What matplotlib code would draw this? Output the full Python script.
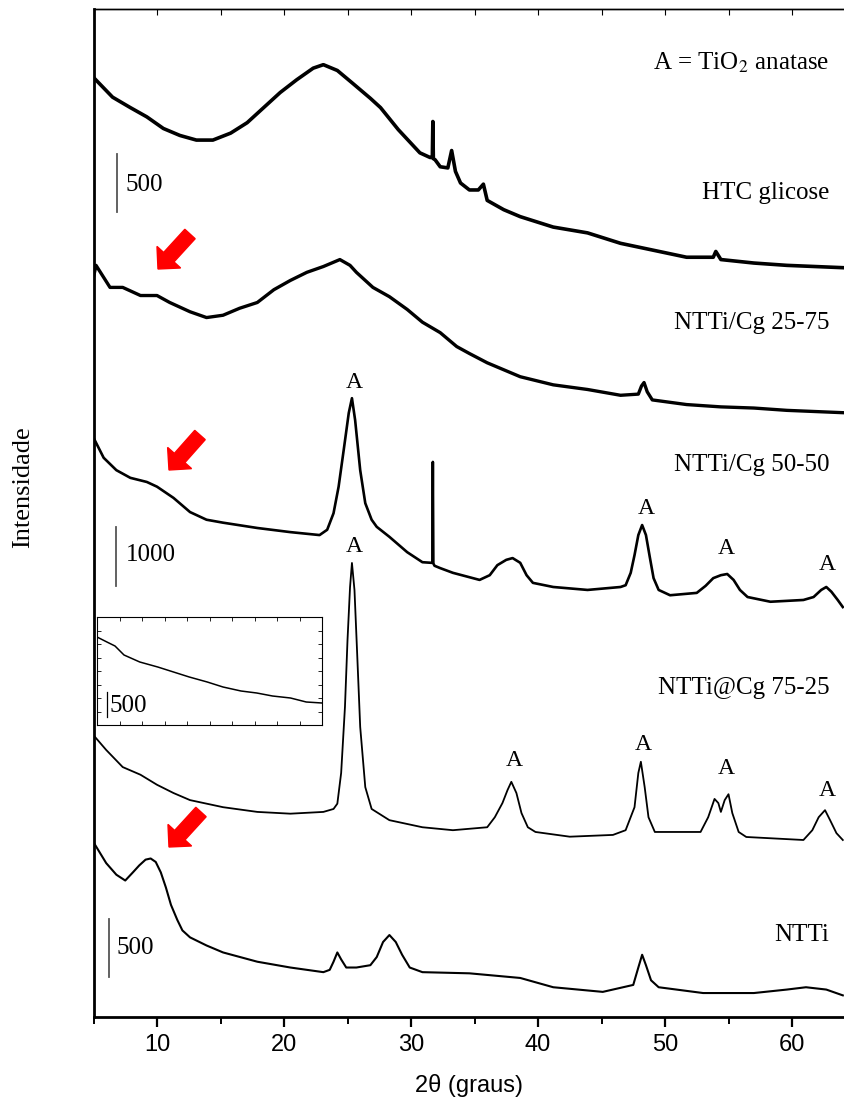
import matplotlib
matplotlib.use("Agg")
import matplotlib.pyplot as plt
from matplotlib.patches import FancyArrow
from matplotlib.transforms import IdentityTransform
from matplotlib.ticker import MultipleLocator
import numpy as np

plt.rcParams['mathtext.fontset'] = 'stix'

# ---------------- data (2theta in degrees, intensity in counts) ----------------
htc_2t = [5.0, 6.5, 7.9, 9.2, 10.5, 11.8, 13.1, 14.4, 15.8, 17.1, 18.4, 19.7, 21.0, 22.3,
          23.1, 24.2, 25.4, 26.8, 27.6, 29.0, 30.7, 31.5, 31.68, 31.72, 31.76, 31.9, 32.3,
          32.9, 33.2, 33.5, 33.9, 34.6, 35.3, 35.7, 36.0, 37.3, 38.6, 41.2, 43.9, 46.5,
          49.1, 51.7, 53.8, 54.0, 54.4, 57.0, 59.6, 64.0]
htc_int = [1660, 1490, 1400, 1320, 1220, 1160, 1120, 1120, 1180, 1270, 1400, 1530, 1640, 1740,
           1770, 1720, 1610, 1480, 1400, 1210, 1010, 970, 970, 1280, 960, 950, 890,
           880, 1030, 850, 750, 690, 690, 740, 600, 520, 460, 370, 320, 230,
           170, 110, 110, 160, 90, 60, 40, 20]

c2575_2t = [5.0, 5.2, 6.3, 7.3, 8.7, 10.0, 11.0, 12.6, 13.9, 15.2, 16.5, 17.9, 19.2, 20.5,
            21.8, 23.1, 24.4, 25.2, 25.7, 27.0, 28.3, 29.7, 30.9, 32.3, 33.6, 34.6, 36.0,
            38.6, 41.2, 43.9, 46.5, 47.9, 48.15, 48.35, 48.6, 49.0, 51.7, 54.4, 57.0, 59.6,
            64.0]
c2575_int = [1190, 1290, 1100, 1100, 1030, 1030, 970, 890, 840, 860, 920, 970, 1080, 1160,
             1230, 1280, 1340, 1290, 1230, 1100, 1020, 910, 800, 710, 590, 530, 450,
             330, 260, 220, 170, 180, 250, 280, 200, 130, 90, 70, 60, 40,
             20]

c5050_2t = [5.0, 5.8, 6.8, 7.9, 9.2, 10.0, 11.3, 12.6, 13.9, 15.2, 17.9, 20.5, 22.8, 23.4,
            23.9, 24.3, 24.7, 25.1, 25.35, 25.6, 26.0, 26.4, 26.9, 27.3, 28.3, 29.7, 30.9,
            31.6, 31.68, 31.72, 31.76, 31.85, 32.3, 33.3, 35.4, 36.2, 36.8, 37.5, 38.0, 38.6,
            39.1, 39.6, 41.2, 43.9, 46.5, 46.9, 47.3, 47.6, 47.9, 48.2, 48.5, 48.8, 49.1,
            49.5, 50.4, 52.5, 53.2, 53.8, 54.4, 54.9, 55.4, 55.9, 56.5, 58.3, 60.9, 61.7,
            62.3, 62.7, 63.1, 63.6, 64.0]
c5050_int = [2920, 2580, 2370, 2240, 2170, 2090, 1900, 1660, 1530, 1480, 1390, 1320, 1270, 1360,
             1640, 2090, 2710, 3340, 3590, 3220, 2370, 1810, 1530, 1410, 1240, 980, 810,
             800, 800, 2510, 790, 750, 710, 630, 510, 590, 760, 850, 880, 800,
             590, 460, 390, 340, 390, 420, 630, 930, 1270, 1440, 1270, 900, 540,
             340, 250, 290, 410, 540, 590, 610, 510, 340, 220, 140, 170, 220,
             340, 390, 310, 170, 50]

c7525_2t = [5.0, 6.0, 7.3, 8.7, 10.0, 11.3, 12.6, 15.2, 17.9, 20.5, 23.1, 23.9, 24.2, 24.5,
            24.8, 25.0, 25.2, 25.35, 25.55, 25.75, 26.0, 26.4, 26.9, 28.3, 30.9, 33.3, 36.0,
            36.6, 37.2, 37.6, 37.9, 38.3, 38.7, 39.2, 39.8, 42.5, 45.9, 46.9, 47.6, 47.9,
            48.1, 48.4, 48.7, 49.2, 52.8, 53.4, 53.9, 54.2, 54.4, 54.7, 55.0, 55.3, 55.8,
            56.4, 60.9, 61.6, 62.1, 62.6, 63.0, 63.5, 64.0]
c7525_int = [1810, 1560, 1270, 1140, 970, 830, 710, 590, 510, 480, 510, 560, 650, 1170,
             2290, 3420, 4320, 4730, 4270, 3250, 1950, 930, 560, 370, 250, 200, 250,
             420, 660, 880, 1020, 830, 490, 250, 170, 90, 120, 200, 590, 1170,
             1360, 930, 420, 170, 170, 420, 730, 660, 510, 710, 810, 490, 170,
             85, 34, 200, 420, 540, 370, 150, 34]

ntti_2t = [5.0, 6.0, 6.8, 7.5, 8.1, 8.6, 9.1, 9.5, 9.9, 10.3, 10.7, 11.1, 11.6, 12.0,
           12.6, 13.9, 15.2, 17.9, 20.5, 23.1, 23.6, 23.9, 24.2, 24.5, 24.9, 25.7, 26.8,
           27.3, 27.8, 28.3, 28.8, 29.3, 29.9, 30.9, 34.6, 38.6, 41.2, 45.1, 47.5, 47.9,
           48.2, 48.5, 48.9, 49.5, 53.0, 57.0, 59.6, 61.1, 62.7, 64.0]
ntti_int = [1360, 1180, 1080, 1030, 1100, 1160, 1210, 1220, 1190, 1100, 970, 820, 690, 600,
            540, 470, 410, 330, 280, 240, 260, 330, 410, 350, 280, 280, 300,
            370, 500, 560, 500, 390, 280, 240, 230, 190, 110, 70, 130, 280,
            390, 300, 170, 110, 60, 60, 90, 110, 90, 40]

inset_2t = [5.0, 5.44, 5.8, 6.2, 6.9, 7.7, 8.4, 9.1, 9.9, 10.6, 11.4, 12.1, 12.8, 13.6,
            14.3, 15.0]
inset_int = [1760, 1660, 1580, 1400, 1260, 1160, 1060, 960, 860, 760, 680, 640, 580, 540,
             460, 440]

sample_names = ["HTC glicose", "NTTi/Cg 25-75", "NTTi/Cg 50-50", "NTTi@Cg 75-25", "NTTi"]
anatase_50_2t = [25.35, 48.3, 54.6, 62.6]
anatase_75_2t = [25.35, 37.9, 48.1, 54.6, 62.6]

# ---------------- figure ----------------
W, H = 844, 1102
fig = plt.figure(figsize=(W / 100, H / 100), dpi=100)
ax_l, ax_r, ax_t, ax_b = 93.5, 844, 9, 1017
ax = fig.add_axes([ax_l / W, 1 - ax_b / H, (ax_r - ax_l) / W, (ax_b - ax_t) / H])
ax.set_xlim(5, 5 + (ax_r - ax_l) / 12.7)
ax.set_ylim(0, ax_b - ax_t)

def stack(vals, offset, k):
    return offset + np.asarray(vals, dtype=float) * k

k500 = 58 / 500.0
k1000 = 59 / 1000.0
curves = [
    (htc_2t, htc_int, 747, k500, 2.6),
    (c2575_2t, c2575_int, 602, k500, 2.4),
    (c5050_2t, c5050_int, 407, k1000, 1.9),
    (c7525_2t, c7525_int, 175, k1000, 1.3),
    (ntti_2t, ntti_int, 17, k500, 1.5),
]
for tt, ii, off, k, lw in curves:
    ax.plot(tt, stack(ii, off, k), color='black', lw=lw, solid_joinstyle='round')

serif = ['Liberation Serif', 'DejaVu Serif']
sans = ['Liberation Sans', 'DejaVu Sans']

# sample labels
label_x = 62.95
label_y = [824, 694, 552, 329, 82]
for name, yy in zip(sample_names, label_y):
    ax.text(label_x, yy, name, ha='right', va='center', fontsize=18, family=serif)
ax.text(label_x, 954, r"A = TiO$_2$ anatase", ha='right', va='center', fontsize=18, family=serif)

# anatase markers
a50_y = [634, 509, 469, 452]
for x, yy in zip(anatase_50_2t, a50_y):
    ax.text(x + 0.2, yy, "A", ha='center', va='center', fontsize=17, family=serif)
a75_y = [470, 257, 272, 249, 227]
for x, yy in zip(anatase_75_2t, a75_y):
    ax.text(x + 0.2, yy, "A", ha='center', va='center', fontsize=17, family=serif)

# scale bars
bar_col = '#555555'
ax.plot([6.85, 6.85], stack([500, 1000], 747, k500), color=bar_col, lw=1.3)
ax.text(7.55, 832, "500", ha='left', va='center', fontsize=18, family=serif)
ax.plot([6.77, 6.77], stack([400, 1400], 407, k1000), color=bar_col, lw=1.3)
ax.text(7.55, 462, "1000", ha='left', va='center', fontsize=18, family=serif)
ax.plot([6.22, 6.22], stack([200, 700], 17, k500), color=bar_col, lw=1.3)
ax.text(6.85, 69, "500", ha='left', va='center', fontsize=18, family=serif)

# axes styling
ax.spines['right'].set_visible(False)
ax.spines['left'].set_linewidth(2.0)
ax.spines['bottom'].set_linewidth(2.0)
ax.spines['top'].set_linewidth(1.0)
ax.set_yticks([])
ax.xaxis.set_major_locator(MultipleLocator(10))
ax.xaxis.set_minor_locator(MultipleLocator(5))
ax.tick_params(axis='x', which='major', direction='out', length=7, width=1.6, labelsize=17, pad=5)
ax.tick_params(axis='x', which='minor', direction='out', length=5, width=1.4)
for lab in ax.get_xticklabels():
    lab.set_family(sans)
sec = ax.secondary_xaxis('top')
sec.xaxis.set_major_locator(MultipleLocator(10))
sec.xaxis.set_minor_locator(MultipleLocator(5))
sec.tick_params(axis='x', which='both', direction='in', length=4, width=0.8, labeltop=False)
sec.spines['top'].set_linewidth(1.0)

ax.set_xlabel("2θ (graus)", fontsize=17, family=sans, labelpad=13)
fig.text(23 / W, 1 - 487 / H, "Intensidade", rotation=90, ha='center', va='center',
         fontsize=19, family=serif)

# inset
ins = fig.add_axes([97 / W, 1 - 725 / H, 225 / W, 108 / H])
ins.plot(inset_2t, inset_int, color='black', lw=1.1)
ins.set_xlim(5, 15)
ins.set_ylim(0, 2160)
ins.xaxis.set_major_locator(MultipleLocator(1))
ins.yaxis.set_major_locator(MultipleLocator(270))
ins.tick_params(which='both', direction='in', length=3, width=0.6, top=True, right=True,
                labelbottom=False, labelleft=False)
for s in ins.spines.values():
    s.set_linewidth(0.8)
ins.plot([5.45, 5.45], [160, 660], color='black', lw=0.9)
ins.text(5.55, 380, "500", ha='left', va='center', fontsize=18, family=serif)

# red arrows (pixel coordinates from the top-left)
arrows = [((190, 234), (158, 269)), ((200, 435), (169, 470)), ((201, 812), (169, 847))]
for (x0, y0), (x1, y1) in arrows:
    arr = FancyArrow(x0, H - y0, x1 - x0, -(y1 - y0), width=14, head_width=32,
                     head_length=16, length_includes_head=True, color='#ff0000',
                     transform=IdentityTransform())
    fig.add_artist(arr)

fig.savefig("out.png", dpi=100)
